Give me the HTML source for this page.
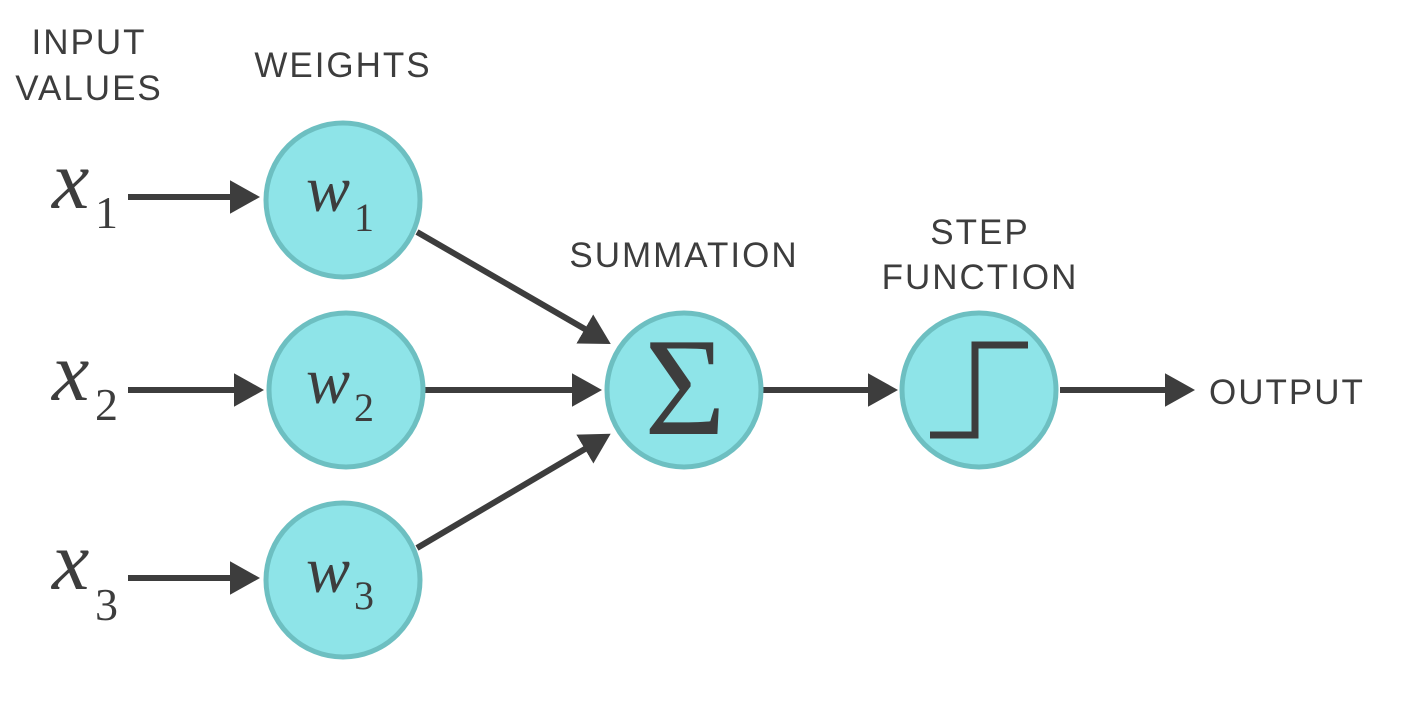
<!DOCTYPE html>
<html><head><meta charset="utf-8"><style>
html,body{margin:0;padding:0;background:#fff;}
svg{display:block}
.lbl{font-family:"Liberation Sans",sans-serif;font-size:35px;fill:#3d3d3d;letter-spacing:2px}
.x{font-family:"Liberation Serif",serif;font-style:italic;font-size:84px;fill:#3d3d3d}
.s{font-family:"Liberation Serif",serif;font-size:46px;fill:#3d3d3d}
.w{font-family:"Liberation Serif",serif;font-style:italic;font-size:66px;fill:#3d3d3d}
.sw{font-family:"Liberation Serif",serif;font-size:40px;fill:#3d3d3d}
</style></head><body>
<svg width="1419" height="717" viewBox="0 0 1419 717" xmlns="http://www.w3.org/2000/svg">
<defs><marker id="a" markerWidth="6" markerHeight="6" refX="1" refY="3" orient="auto" markerUnits="strokeWidth"><path d="M0,0.2 L5,3 L0,5.8 Z" fill="#3d3d3d"/></marker></defs>
<g stroke="#3d3d3d" stroke-width="6" fill="none">
<line x1="128" y1="197" x2="236" y2="197" marker-end="url(#a)"/>
<line x1="128" y1="390" x2="240" y2="390" marker-end="url(#a)"/>
<line x1="128" y1="578" x2="236" y2="578" marker-end="url(#a)"/>
<line x1="417" y1="232" x2="590" y2="332" marker-end="url(#a)"/>
<line x1="425" y1="390" x2="578" y2="390" marker-end="url(#a)"/>
<line x1="417" y1="548" x2="590" y2="446" marker-end="url(#a)"/>
<line x1="763" y1="390" x2="874" y2="390" marker-end="url(#a)"/>
<line x1="1060" y1="390" x2="1171" y2="390" marker-end="url(#a)"/>
</g>
<g fill="#8ee4e8" stroke="#6dbfc1" stroke-width="5">
<circle cx="343" cy="200" r="77"/>
<circle cx="346" cy="390" r="77"/>
<circle cx="343" cy="580" r="77"/>
<circle cx="684" cy="390" r="77"/>
<circle cx="979" cy="390" r="77"/>
</g>
<path d="M930,435 H975 V345 H1028" stroke="#3d3d3d" stroke-width="7" fill="none"/>
<text x="685" y="434" text-anchor="middle" font-family="Liberation Serif,serif" font-size="140" fill="#3d3d3d">Σ</text>
<text class="lbl" x="89" y="54" text-anchor="middle">INPUT</text>
<text class="lbl" x="89" y="100" text-anchor="middle">VALUES</text>
<text class="lbl" x="343" y="77" text-anchor="middle">WEIGHTS</text>
<text class="lbl" x="684" y="267" text-anchor="middle">SUMMATION</text>
<text class="lbl" x="980" y="244" text-anchor="middle">STEP</text>
<text class="lbl" x="980" y="289" text-anchor="middle">FUNCTION</text>
<text class="lbl" x="1209" y="404">OUTPUT</text>
<text class="x" x="52" y="208">x</text><text class="s" x="95" y="228">1</text>
<text class="x" x="52" y="400">x</text><text class="s" x="95" y="420">2</text>
<text class="x" x="52" y="589">x</text><text class="s" x="95" y="620">3</text>
<text class="w" x="306" y="211">w</text><text class="sw" x="354" y="231">1</text>
<text class="w" x="306" y="403">w</text><text class="sw" x="354" y="421">2</text>
<text class="w" x="306" y="592">w</text><text class="sw" x="354" y="609">3</text>
</svg>
</body></html>
